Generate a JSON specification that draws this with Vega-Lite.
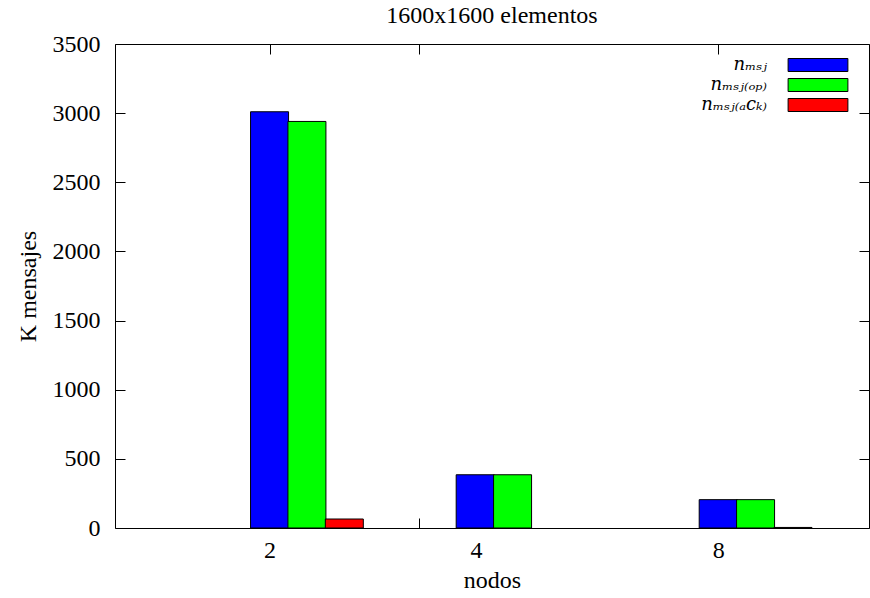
{
  "$schema": "https://vega.github.io/schema/vega-lite/v6.json",
  "width": 754,
  "height": 484,
  "autosize": "none",
  "padding": {"left": 115, "top": 44, "right": 1, "bottom": 70},
  "background": "white",
  "title": {
    "text": "1600x1600 elementos",
    "font": "Liberation Serif",
    "fontSize": 24,
    "fontWeight": "normal",
    "color": "black",
    "anchor": "middle",
    "offset": 4
  },
  "config": {
    "font": "Liberation Serif",
    "view": {"stroke": "black", "strokeWidth": 1},
    "axis": {
      "domain": false,
      "grid": false,
      "ticks": true,
      "tickColor": "black",
      "tickWidth": 1,
      "tickSize": -10,
      "labelColor": "black",
      "labelFont": "Liberation Serif",
      "labelFontSize": 24,
      "labelFlush": false,
      "labelOverlap": false,
      "titleFont": "Liberation Serif",
      "titleFontSize": 24,
      "titleFontWeight": "normal",
      "titleColor": "black"
    }
  },
  "data": {
    "values": [
      {"nodos": 2, "serie": "n_msj", "valor": 3010},
      {"nodos": 2, "serie": "n_msj(op)", "valor": 2940},
      {"nodos": 2, "serie": "n_msj(ack)", "valor": 65},
      {"nodos": 4, "serie": "n_msj", "valor": 385},
      {"nodos": 4, "serie": "n_msj(op)", "valor": 385},
      {"nodos": 8, "serie": "n_msj", "valor": 205},
      {"nodos": 8, "serie": "n_msj(op)", "valor": 205},
      {"nodos": 8, "serie": "n_msj(ack)", "valor": 4}
    ]
  },
  "transform": [
    {"calculate": "(datum.nodos == 4 ? 4.75 : datum.nodos) + 0.5 * indexof(['n_msj', 'n_msj(op)', 'n_msj(ack)'], datum.serie)", "as": "pos"}
  ],
  "layer": [
    {
      "mark": {"type": "bar", "width": 38, "stroke": "black", "strokeWidth": 1, "opacity": 1},
      "encoding": {
        "x": {
          "field": "pos",
          "type": "quantitative",
          "scale": {"domain": [0, 9.95], "nice": false, "zero": false},
          "axis": {
            "orient": "bottom",
            "title": "nodos",
            "values": [2, 4, 8],
            "format": "d",
            "labelPadding": 20,
            "labelOffset": {"condition": {"test": "datum.value == 4", "value": 57}, "value": 0},
            "titlePadding": 6
          }
        },
        "y": {
          "field": "valor",
          "type": "quantitative",
          "scale": {"domain": [0, 3500], "nice": false},
          "axis": {
            "orient": "left",
            "title": "K mensajes",
            "values": [0, 500, 1000, 1500, 2000, 2500, 3000, 3500],
            "format": "d",
            "labelPadding": 25,
            "titlePadding": 12
          }
        },
        "fill": {
          "field": "serie",
          "type": "nominal",
          "scale": {
            "domain": ["n_msj", "n_msj(op)", "n_msj(ack)"],
            "range": ["#0000ff", "#00ff00", "#ff0000"]
          },
          "legend": {
            "title": null,
            "orient": "none",
            "legendX": 694,
            "legendY": 12,
            "padding": 0,
            "rowPadding": 2,
            "symbolType": "M-4.6,-1H4.6V1H-4.6Z",
            "symbolSize": 169,
            "symbolStrokeColor": "black",
            "symbolStrokeWidth": 1,
            "symbolOpacity": 1,
            "labelAlign": "right",
            "labelOffset": -60,
            "labelFont": "DejaVu Serif",
            "labelFontStyle": "italic",
            "labelFontSize": 18,
            "labelColor": "black",
            "labelLimit": 0,
            "labelExpr": "datum.label == 'n_msj' ? 'nₘₛⱼ' : datum.label == 'n_msj(op)' ? 'nₘₛⱼ₍ₒₚ₎' : 'nₘₛⱼ₍ₐcₖ₎'"
          }
        }
      }
    },
    {
      "mark": {"type": "bar", "width": 38, "opacity": 0},
      "encoding": {
        "x": {
          "field": "pos",
          "type": "quantitative",
          "axis": {"orient": "top", "title": null, "labels": false, "values": [2, 4, 8]}
        },
        "y": {
          "field": "valor",
          "type": "quantitative",
          "axis": {"orient": "right", "title": null, "labels": false, "values": [0, 500, 1000, 1500, 2000, 2500, 3000, 3500]}
        }
      }
    }
  ],
  "resolve": {"axis": {"x": "independent", "y": "independent"}}
}
